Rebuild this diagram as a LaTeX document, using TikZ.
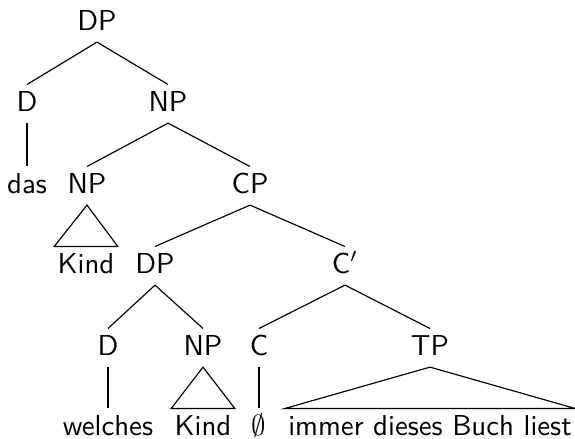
\documentclass[tikz,border=0pt]{standalone}

\begin{document}
\begin{tikzpicture}[x=0.347pt, y=-0.347pt,
    cat/.style={anchor=base, font=\sffamily, inner xsep=1pt, inner ysep=2pt,
        text height=7pt, text depth=2pt},
    branch/.style={thin, black},
        ]

    \path [use as bounding box] (0,0) rectangle (575,438);

    % rows (baselines): 30, 111, 193, 273, 355, 435
    \node [cat] (dp)    at (97,30)   {DP};

    \node [cat] (d)     at (27,111)  {D};
    \node [cat] (np)    at (168,111) {NP};

    \node [cat] (das)   at (27,193)  {das};
    \node [cat] (npa)   at (87,193)  {NP};
    \node [cat] (cp)    at (250,193) {CP};

    \node [cat] (kind)  at (86,273)  {Kind};
    \node [cat] (dpb)   at (155,273) {DP};
    \node [cat] (cbar)  at (345,273) {C$'$};

    \node [cat] (db)    at (108,355) {D};
    \node [cat] (npb)   at (203,355) {NP};
    \node [cat] (c)     at (259,355) {C};
    \node [cat] (tp)    at (430,355) {TP};

    \node [cat] (welches) at (108,435) {welches};
    \node [cat] (kindb)   at (203,435) {Kind};
    \node [cat] (empty)   at (259,435) {$\emptyset$};
    \node [cat] (rest)    at (430,435) {immer dieses Buch liest};

    % branches
    \draw [branch] (dp.south) -- (d.north);
    \draw [branch] (dp.south) -- (np.north);
    \draw [branch] (d.south) -- (das.north);
    \draw [branch] (np.south) -- (npa.north);
    \draw [branch] (np.south) -- (cp.north);
    \draw [branch] (cp.south) -- (dpb.north);
    \draw [branch] (cp.south) -- (cbar.north);
    \draw [branch] (dpb.south) -- (db.north);
    \draw [branch] (dpb.south) -- (npb.north);
    \draw [branch] (cbar.south) -- (c.north);
    \draw [branch] (cbar.south) -- (tp.north);
    \draw [branch] (db.south) -- (welches.north);
    \draw [branch] (c.south) -- (empty.north);

    % triangles
    \draw [branch] (npa.south) -- (kind.north west) -- (kind.north east) -- cycle;
    \draw [branch] (npb.south) -- (kindb.north west) -- (kindb.north east) -- cycle;
    \draw [branch] (tp.south) -- (rest.north west) -- (rest.north east) -- cycle;

\end{tikzpicture}
\end{document}
